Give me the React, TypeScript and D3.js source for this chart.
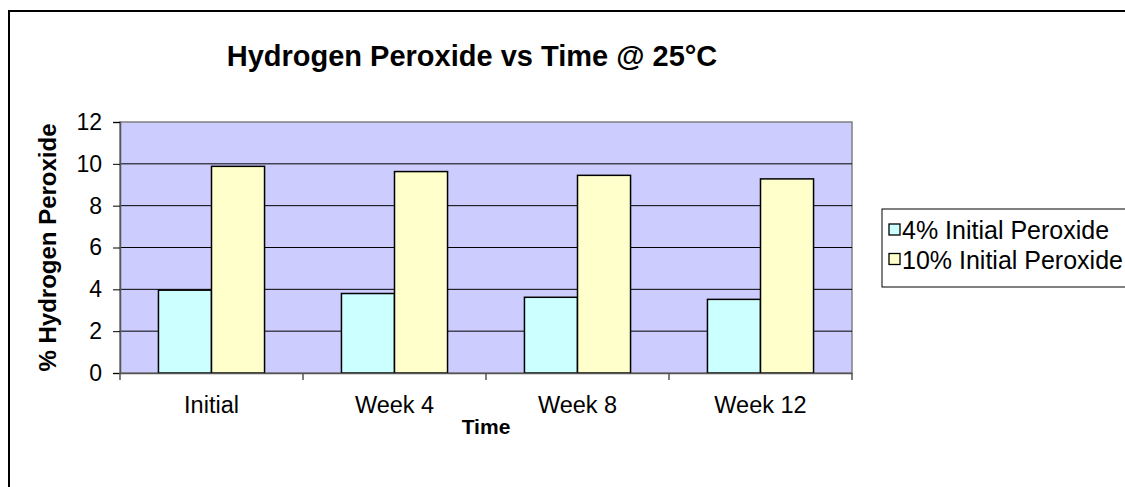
import { useRef, useEffect } from 'react'
import * as d3 from 'd3'

const categories = ['Initial', 'Week 4', 'Week 8', 'Week 12']
const seriesNames = ['4% Initial Peroxide', '10% Initial Peroxide']
const series4 = [3.96, 3.8, 3.62, 3.52]
const series10 = [9.88, 9.63, 9.45, 9.28]
const seriesColors = ['#CCFFFF', '#FFFFCC']
const yTicks = [0, 2, 4, 6, 8, 10, 12]

export default function App() {
  const svgRef = useRef<SVGSVGElement>(null)
  const width = 1125
  const height = 487

  useEffect(() => {
    if (!svgRef.current) return
    const svg = d3.select(svgRef.current)
    svg.selectAll('*').remove()

    const font = 'Liberation Sans, Arial, sans-serif'
    const plot = { left: 120, top: 122, right: 852, bottom: 373 }

    // chart area border
    svg.append('rect')
      .attr('x', 9).attr('y', 11)
      .attr('width', width + 20).attr('height', height + 20)
      .attr('fill', '#fff').attr('stroke', '#000').attr('stroke-width', 2)

    // title
    svg.append('text')
      .attr('x', 472).attr('y', 66)
      .attr('text-anchor', 'middle')
      .attr('font-family', font).attr('font-weight', 'bold').attr('font-size', 29)
      .text('Hydrogen Peroxide vs Time @ 25°C')

    const x0 = d3.scaleBand().domain(categories).range([plot.left, plot.right]).paddingInner(0).paddingOuter(0)
    const inner = 1 / 3.45
    const y = d3.scaleLinear().domain([0, 12]).range([plot.bottom, plot.top])

    // plot background
    svg.append('rect')
      .attr('x', plot.left).attr('y', plot.top)
      .attr('width', plot.right - plot.left).attr('height', plot.bottom - plot.top)
      .attr('fill', '#CCCCFF').attr('stroke', '#808080').attr('stroke-width', 1.5)

    // gridlines
    svg.append('g')
      .selectAll('line')
      .data(yTicks.filter((t) => t > 0 && t < 12))
      .enter()
      .append('line')
      .attr('x1', plot.left).attr('x2', plot.right)
      .attr('y1', (d) => y(d)).attr('y2', (d) => y(d))
      .attr('stroke', '#000').attr('stroke-width', 1)

    // bars
    const bw = x0.bandwidth() * inner
    const data = categories.map((c, i) => ({ c, vals: [series4[i], series10[i]] }))
    const groups = svg.append('g')
      .selectAll('g')
      .data(data)
      .enter()
      .append('g')
    groups.selectAll('rect')
      .data((d) => d.vals.map((v, j) => ({ c: d.c, v, j })))
      .enter()
      .append('rect')
      .attr('x', (d) => (x0(d.c) as number) + x0.bandwidth() / 2 - bw + d.j * bw)
      .attr('y', (d) => y(d.v))
      .attr('width', bw)
      .attr('height', (d) => y(0) - y(d.v))
      .attr('fill', (d) => seriesColors[d.j])
      .attr('stroke', '#000').attr('stroke-width', 1.5)

    // y axis
    const yAxis = d3.axisLeft(y).tickValues(yTicks).tickSize(7).tickPadding(11)
    const yG = svg.append('g')
      .attr('transform', `translate(${plot.left},0)`)
      .call(yAxis)
    yG.select('.domain').attr('stroke', '#555').attr('stroke-width', 1.5)
    yG.selectAll('line').attr('stroke', '#000')
    yG.selectAll('text').attr('font-family', font).attr('font-size', 23).attr('fill', '#000')

    // x axis
    const xAxis = d3.axisBottom(x0).tickSize(0).tickPadding(23)
    const xG = svg.append('g')
      .attr('transform', `translate(0,${plot.bottom})`)
      .call(xAxis)
    xG.select('.domain').attr('stroke', '#555').attr('stroke-width', 1.5)
    xG.selectAll('text').attr('font-family', font).attr('font-size', 23.5).attr('fill', '#000')
    xG.selectAll('.sep')
      .data([...categories.map((c) => x0(c) as number), plot.right])
      .enter()
      .append('line')
      .attr('x1', (d) => d).attr('x2', (d) => d)
      .attr('y1', 0).attr('y2', 7)
      .attr('stroke', '#555').attr('stroke-width', 1.5)

    // axis titles
    svg.append('text')
      .attr('x', (plot.left + plot.right) / 2).attr('y', 434)
      .attr('text-anchor', 'middle')
      .attr('font-family', font).attr('font-weight', 'bold').attr('font-size', 21)
      .text('Time')
    svg.append('text')
      .attr('transform', `translate(56,${(plot.top + plot.bottom) / 2}) rotate(-90)`)
      .attr('text-anchor', 'middle')
      .attr('font-family', font).attr('font-weight', 'bold').attr('font-size', 24)
      .text('% Hydrogen Peroxide')

    // legend
    const lg = svg.append('g')
    lg.append('rect')
      .attr('x', 882).attr('y', 209).attr('width', 270).attr('height', 78)
      .attr('fill', '#fff').attr('stroke', '#000').attr('stroke-width', 1)
    seriesNames.forEach((name, i) => {
      const base = 239 + i * 29.5
      lg.append('rect')
        .attr('x', 889).attr('y', base - 15).attr('width', 11).attr('height', 11)
        .attr('fill', seriesColors[i]).attr('stroke', '#000').attr('stroke-width', 1.3)
      lg.append('text')
        .attr('x', 902).attr('y', base)
        .attr('font-family', font).attr('font-size', 25)
        .text(name)
    })
  }, [])

  return (
    <svg
      ref={svgRef}
      width={width}
      height={height}
      style={{ position: 'absolute', left: 0, top: 0, background: '#fff' }}
    />
  )
}
